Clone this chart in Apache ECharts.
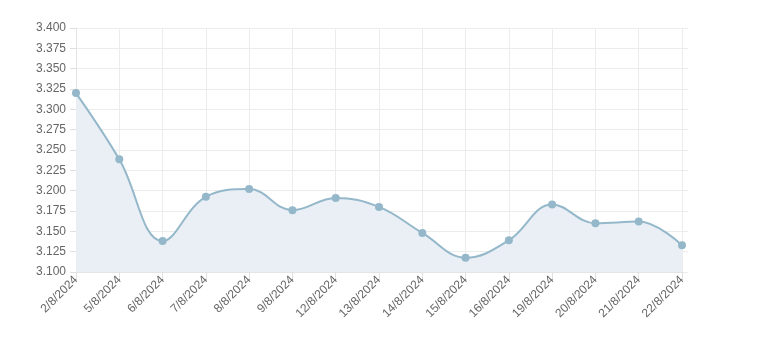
<!DOCTYPE html>
<html><head><meta charset="utf-8">
<script src="https://cdn.jsdelivr.net/npm/echarts@6/dist/echarts.min.js"></script>
<style>html,body{margin:0;padding:0;background:#fff}#c{width:764px;height:347px}</style>
</head><body><div id="c"></div>
<script>
var categories = ['2/8/2024','5/8/2024','6/8/2024','7/8/2024','8/8/2024','9/8/2024','12/8/2024','13/8/2024','14/8/2024','15/8/2024','16/8/2024','19/8/2024','20/8/2024','21/8/2024','22/8/2024'];
var values = [3.320,3.2385,3.138,3.1925,3.202,3.176,3.191,3.180,3.148,3.1175,3.139,3.183,3.160,3.162,3.133];
var yMin = 3.1, yMax = 3.4, yStep = 0.025;

var chart = echarts.init(document.getElementById('c'), null, {renderer:'canvas'});
chart.setOption({
  animation:false,
  grid:{left:76,right:82,top:28,bottom:75,containLabel:false},
  xAxis:{
    type:'category', data:categories, boundaryGap:false,
    axisLine:{show:true,lineStyle:{color:'#e4e4e4'}},
    axisTick:{show:true,length:6,lineStyle:{color:'#e0e0e0'}},
    splitLine:{show:true,lineStyle:{color:'#ececec'}},
    axisLabel:{rotate:45,color:'#666',fontSize:12,fontFamily:'Liberation Sans, Arial, sans-serif',margin:6,interval:0}
  },
  yAxis:[{
    type:'value', min:yMin, max:yMax, interval:yStep,
    axisLine:{show:true,lineStyle:{color:'#e4e4e4'}},
    axisTick:{show:true,length:6,lineStyle:{color:'#e0e0e0'}},
    splitLine:{show:true,lineStyle:{color:'#ececec'}},
    axisLabel:{color:'#666',fontSize:12,fontFamily:'Liberation Sans, Arial, sans-serif',margin:10,
      formatter:function(v){return v.toFixed(3);}}
  },{
    type:'value', position:'right', min:yMin, max:yMax, interval:yStep,
    axisLine:{show:false},
    axisTick:{show:true,length:6,lineStyle:{color:'#ececec'}},
    splitLine:{show:false},
    axisLabel:{show:false}
  }],
  series:[{
    type:'line', data:values, smooth:0.4,
    symbol:'circle', symbolSize:8,
    itemStyle:{color:'#94b8ca'},
    lineStyle:{color:'#94b8ca',width:2},
    areaStyle:{color:'#e9eff5',opacity:1}
  }]
});
</script></body></html>
